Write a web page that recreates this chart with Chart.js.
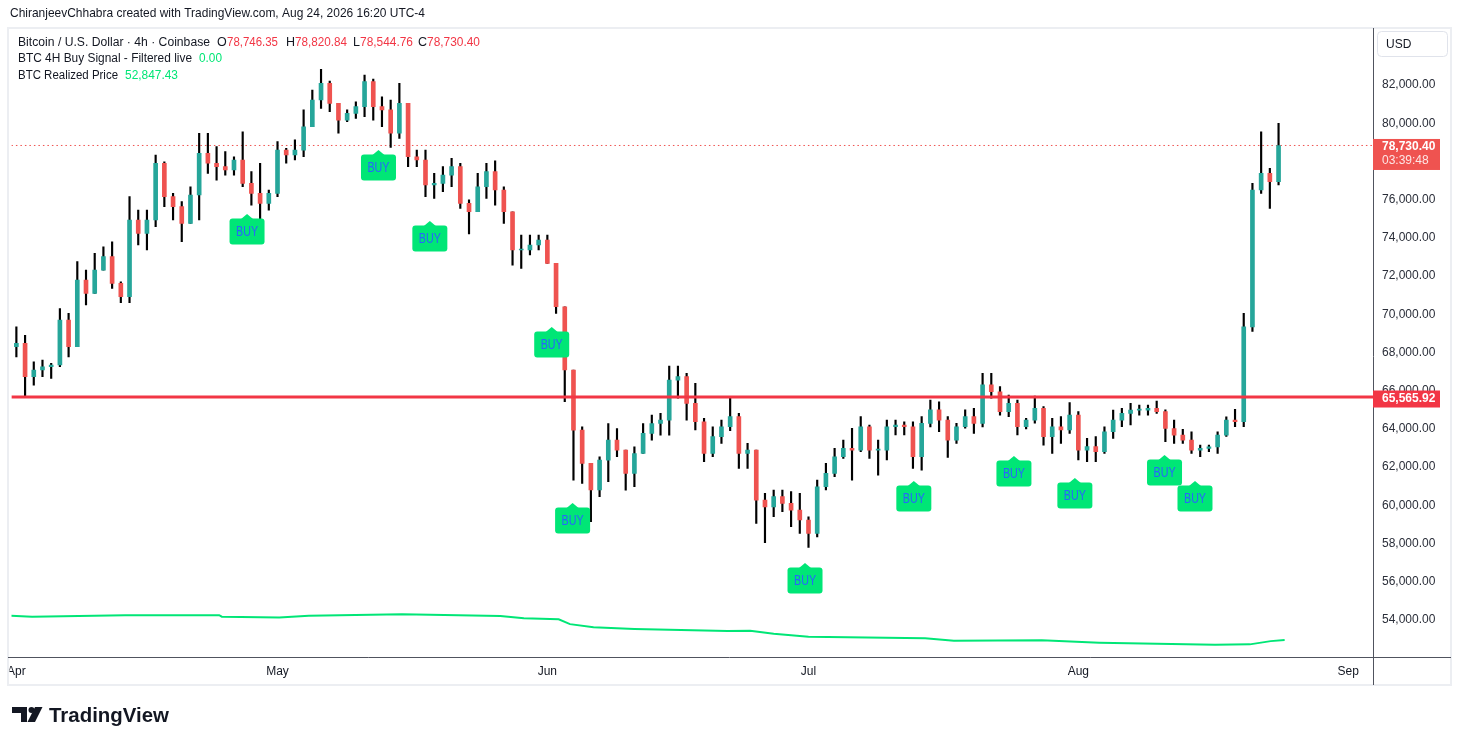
<!DOCTYPE html>
<html>
<head>
<meta charset="utf-8">
<title>BTC / USD 4h</title>
<script src="https://cdn.jsdelivr.net/npm/chart.js@4.4.1/dist/chart.umd.min.js"></script>
<style>
  html, body { margin: 0; padding: 0; background: #fff; }
  canvas { display: block; }
</style>
</head>
<body>
<canvas id="chart" width="1461" height="745"></canvas>
<script>
// one candle per day, day 0 = Apr 1
const opens = [
  68200,68370,66630,66980,67150,67240,69590,68200,71690,70990,
  72210,72910,71510,70820,74830,74130,74830,77800,76050,75530,
  74650,76140,78320,77800,77620,77450,77970,76750,76220,75700,
  76220,78490,78230,78490,79710,81110,81980,80930,80060,80410,
  80760,82070,80760,80590,79370,80930,78140,77970,76660,76750,
  77180,77620,75700,75260,76570,77360,76400,75260,73260,73260,
  73520,73780,72560,70290,66980,63830,62090,60700,62260,63310,
  62790,61570,62610,63660,64180,64360,66450,66630,65230,64270,
  62620,63490,64010,64540,62620,62790,60170,59820,60350,60000,
  59650,59130,58430,60870,61570,62440,62880,62790,64010,62790,
  62790,64010,64100,64010,62440,64190,64890,64360,63310,64010,
  64540,64190,66200,65840,64800,65230,64010,64360,64970,63490,
  64010,63840,64620,62790,62970,62710,63750,64360,64710,64880,
  64880,64970,64800,63920,63570,63310,62790,62880,62960,63570,
  64360,64270,69240,76400,77270,76840
]
const highs = [
  69240,68800,67410,67500,67330,70200,69940,72650,72210,73080,
  73430,73690,71600,76050,75350,75350,78230,77880,76220,75790,
  76570,79370,79370,78670,78410,78140,79450,77360,77800,76400,
  78930,78580,79020,80590,81630,82710,82100,80930,80590,81020,
  82420,82200,81280,81110,81980,80930,78490,78490,77270,77620,
  78060,77800,75880,77270,77800,77930,76570,75260,74040,74040,
  74040,74040,72560,70290,66980,64010,62090,62440,64180,63920,
  62790,62960,64180,64620,64710,67190,67190,66800,66280,64450,
  64010,64360,65500,64710,63140,62790,60520,60700,60700,60610,
  60520,59300,61220,62090,62880,63310,63930,64540,64100,63310,
  64360,64360,64270,64270,64540,65410,65320,64540,64190,64890,
  64970,66800,66800,66110,65670,65400,64450,65620,65060,64450,
  64540,65270,64800,63400,63490,64010,64880,64970,65230,65150,
  65150,65350,64900,64360,63870,63750,63050,63050,63750,64530,
  64920,69940,76750,79450,77530,79890
]
const lows = [
  67670,65630,66190,66630,66540,67150,67670,68200,70380,70990,
  72210,71250,70500,70500,73520,73260,74480,75530,74830,73690,
  74650,74830,77270,76920,77180,77180,76570,75610,74830,75350,
  76050,77800,77970,78140,79710,80670,80500,79370,79970,80150,
  80240,80060,79710,78630,79100,77620,77620,76050,75960,76310,
  76570,75440,74100,75260,75960,75610,74650,72470,72300,73000,
  73260,72560,69940,65320,61220,61040,59040,60350,61130,62440,
  60690,60870,62610,63310,63570,63570,65500,64360,63840,62180,
  62440,63140,63800,61830,61830,58950,57940,59300,59560,58780,
  58430,57690,58250,60700,61400,62350,61220,62700,62350,61480,
  62270,63580,63580,61830,61740,64000,63750,62410,63140,63930,
  63660,64000,65500,64620,64540,63580,63900,64200,63050,62620,
  63140,63660,62270,62180,62180,62620,63400,64010,64100,64620,
  64620,64710,63230,63140,63140,62610,62440,62700,62610,63500,
  64010,64010,69000,76220,75440,76660
]
const closes = [
  68370,66630,66980,67150,67240,69590,68200,71690,70990,72210,
  72910,71510,70820,74830,74130,74830,77800,76050,75530,74650,
  76140,78320,77800,77620,77450,77970,76750,76220,75700,76220,
  78490,78230,78490,79710,81110,81980,80930,80060,80410,80760,
  82070,80760,80590,79370,80930,78140,77970,76660,76750,77180,
  77620,75700,75260,76570,77360,76400,75260,73260,73260,73520,
  73780,72560,70290,66980,63830,62090,60700,62260,63310,62790,
  61570,62610,63660,64180,64360,66450,66630,65230,64270,62620,
  63490,64010,64540,62620,62790,60170,59820,60350,60000,59650,
  59130,58430,60870,61570,62440,62880,62790,64010,62790,62790,
  64010,64100,64010,62440,64190,64890,64360,63310,64010,64540,
  64190,66200,65840,64800,65230,64010,64360,64970,63490,64010,
  63840,64620,62790,62970,62710,63750,64360,64710,64880,64880,
  64970,64800,63920,63570,63310,62790,62880,62960,63570,64360,
  64270,69240,76400,77270,76840,78730
]

// BTC realized price (day, value)
const realizedDays = [-0.6, 1.8, 12.5, 23.3, 23.6, 30.2, 33.6, 44.3, 55.6, 58.3, 62.3, 63.6, 66.3, 71, 81.7, 84.3, 87, 91, 104.4, 107.7, 117.8, 124.4, 137.7, 141.7, 144.1, 145.7]
const realizedValues = [54120, 54070, 54150, 54150, 54070, 54020, 54120, 54190, 54100, 53990, 53930, 53680, 53510, 53420, 53320, 53330, 53180, 53020, 52940, 52810, 52830, 52710, 52600, 52620, 52790, 52847]

// buy signals: day and price level of the arrow tip
const buyDays = [26.5, 41.6, 47.5, 61.5, 63.9, 90.6, 103.1, 114.6, 121.6, 131.9, 135.4]
const buyLevels = [75140, 78490, 74780, 69230, 60020, 56880, 61170, 62480, 61330, 62530, 61170]

const supportLevel = 65565.92
const lastPrice = 78730.40

const monthTicks = [0, 30, 61, 91, 122, 153]
const monthLabels = ['Apr', 'May', 'Jun', 'Jul', 'Aug', 'Sep']
const priceTicks = [54000, 56000, 58000, 60000, 62000, 64000, 66000, 68000, 70000, 72000, 74000, 76000, 78000, 80000, 82000]

const xMin = -0.57
const xMax = 155.85
const yMin = 51959
const yMax = 84826

const FONT = "'Liberation Sans', Arial, sans-serif"
const UP = '#26a69a'
const DOWN = '#ef5350'

const days = closes.map((_, i) => i)
const bodyColors = days.map(i => closes[i] >= opens[i] ? UP : DOWN)

function fmt(v) {
  return v.toLocaleString('en-US', { minimumFractionDigits: 2, maximumFractionDigits: 2 })
}

function box(ctx, x, y, w, h, r) {
  ctx.beginPath()
  ctx.roundRect(x, y, w, h, r)
}

const overlay = {
  id: 'overlay',
  beforeDraw(chart) {
    const ctx = chart.ctx
    ctx.save()
    ctx.fillStyle = '#ffffff'
    ctx.fillRect(0, 0, chart.width, chart.height)
    ctx.restore()
  },
  afterDatasetsDraw(chart) {
    const ctx = chart.ctx
    const xs = chart.scales.x
    const ys = chart.scales.y
    ctx.save()
    buyDays.forEach((d, i) => {
      const x = xs.getPixelForValue(d)
      const tip = ys.getPixelForValue(buyLevels[i])
      ctx.fillStyle = '#00e676'
      ctx.beginPath()
      ctx.moveTo(x, tip)
      ctx.lineTo(x + 6, tip + 5)
      ctx.lineTo(x - 6, tip + 5)
      ctx.closePath()
      ctx.fill()
      box(ctx, x - 17.5, tip + 4.5, 35, 26, 3)
      ctx.fill()
      ctx.fillStyle = '#2962ff'
      ctx.font = '14px ' + FONT
      ctx.textAlign = 'center'
      ctx.textBaseline = 'middle'
      ctx.fillText('BUY', x, tip + 18, 22)
    })
    ctx.restore()
  },
  afterDraw(chart) {
    const ctx = chart.ctx
    const ys = chart.scales.y
    ctx.save()

    // hide the part of the first month label that falls outside the pane
    ctx.fillStyle = '#ffffff'
    ctx.fillRect(0, 650, 9.5, 40)

    // pane frame and axis lines
    ctx.strokeStyle = '#eceef2'
    ctx.lineWidth = 2
    ctx.strokeRect(8, 28, 1443, 657)
    ctx.strokeStyle = '#50535e'
    ctx.lineWidth = 1
    ctx.beginPath()
    ctx.moveTo(1373.5, 28)
    ctx.lineTo(1373.5, 685)
    ctx.moveTo(8, 657.5)
    ctx.lineTo(1451, 657.5)
    ctx.stroke()

    // header
    ctx.textBaseline = 'middle'
    ctx.textAlign = 'left'
    ctx.fillStyle = '#131722'
    ctx.font = '13px ' + FONT
    ctx.fillText('ChiranjeevChhabra created with TradingView.com, Aug 24, 2026 16:20 UTC-4', 10, 13, 415)

    // legend
    const legend = [
      ['Bitcoin / U.S. Dollar · 4h · Coinbase', 18, 42, 192, '#131722'],
      ['O', 217, 42, 10, '#131722'],
      ['78,746.35', 227, 42, 51, '#f23645'],
      ['H', 286, 42, 10, '#131722'],
      ['78,820.84', 295, 42, 52, '#f23645'],
      ['L', 353, 42, 8, '#131722'],
      ['78,544.76', 360, 42, 53, '#f23645'],
      ['C', 418, 42, 10, '#131722'],
      ['78,730.40', 427, 42, 53, '#f23645'],
      ['BTC 4H Buy Signal - Filtered live', 18, 58, 174, '#131722'],
      ['0.00', 199, 58, 23, '#00e676'],
      ['BTC Realized Price', 18, 75, 100, '#131722'],
      ['52,847.43', 125, 75, 53, '#00e676']
    ]
    ctx.font = '12.5px ' + FONT
    legend.forEach(([t, x, y, w, c]) => {
      ctx.fillStyle = c
      ctx.fillText(t, x, y + 1, w)
    })

    // USD button
    ctx.strokeStyle = '#e0e3eb'
    box(ctx, 1377.5, 31.5, 70, 25, 4)
    ctx.stroke()
    ctx.fillStyle = '#131722'
    ctx.font = '12px ' + FONT
    ctx.fillText('USD', 1386, 44.5)

    // last price label
    const yl = ys.getPixelForValue(lastPrice)
    ctx.fillStyle = '#ef5350'
    ctx.fillRect(1373, yl - 6.5, 67, 31)
    ctx.fillStyle = '#ffffff'
    ctx.font = 'bold 12px ' + FONT
    ctx.fillText(fmt(lastPrice), 1382, yl + 1.5, 54)
    ctx.font = '12px ' + FONT
    ctx.fillStyle = 'rgba(255,255,255,0.85)'
    ctx.fillText('03:39:48', 1382, yl + 15, 50)

    // support level label
    const ysup = ys.getPixelForValue(supportLevel)
    ctx.fillStyle = '#f23645'
    ctx.fillRect(1373, ysup - 6.5, 67, 17)
    ctx.fillStyle = '#ffffff'
    ctx.font = 'bold 12px ' + FONT
    ctx.fillText(fmt(supportLevel), 1382, ysup + 2, 54)

    // TradingView logo
    ctx.fillStyle = '#131722'
    ctx.fillRect(12, 707, 15, 6)
    ctx.fillRect(21, 707, 6, 15)
    ctx.beginPath()
    ctx.arc(31.5, 710, 3, 0, Math.PI * 2)
    ctx.fill()
    ctx.beginPath()
    ctx.moveTo(35, 707)
    ctx.lineTo(42.5, 707)
    ctx.lineTo(35, 722)
    ctx.lineTo(27.5, 722)
    ctx.closePath()
    ctx.fill()
    ctx.font = 'bold 21px ' + FONT
    ctx.textBaseline = 'alphabetic'
    ctx.fillText('TradingView', 49, 722, 120)

    ctx.restore()
  }
}

new Chart(document.getElementById('chart'), {
  type: 'bar',
  data: {
    datasets: [
      {
        type: 'line',
        label: 'Support',
        data: [{ x: xMin, y: supportLevel }, { x: xMax, y: supportLevel }],
        borderColor: '#f23645',
        borderWidth: 3,
        pointRadius: 0,
        order: 0
      },
      {
        type: 'line',
        label: 'BTC Realized Price',
        data: realizedDays.map((d, i) => ({ x: d, y: realizedValues[i] })),
        borderColor: '#00e676',
        borderWidth: 2,
        pointRadius: 0,
        order: 1
      },
      {
        label: 'Bodies',
        data: days.map(i => ({ x: i, y: [opens[i], closes[i]] })),
        backgroundColor: bodyColors,
        barThickness: 4,
        minBarLength: 1,
        grouped: false,
        order: 2
      },
      {
        label: 'Wicks',
        data: days.map(i => ({ x: i, y: [lows[i], highs[i]] })),
        backgroundColor: '#000000',
        barThickness: 1.5,
        grouped: false,
        order: 3
      },
      {
        type: 'line',
        label: 'Last',
        data: [{ x: xMin, y: lastPrice }, { x: xMax, y: lastPrice }],
        borderColor: '#ef5350',
        borderWidth: 1,
        borderDash: [1.5, 3],
        pointRadius: 0,
        order: 4
      }
    ]
  },
  options: {
    responsive: false,
    animation: false,
    events: [],
    layout: { padding: { left: 9, top: 29, right: 10, bottom: 60 } },
    plugins: {
      legend: { display: false },
      tooltip: { enabled: false }
    },
    scales: {
      x: {
        type: 'linear',
        min: xMin,
        max: xMax,
        offset: false,
        grid: { display: false, drawTicks: false },
        border: { display: false },
        afterBuildTicks: s => { s.ticks = monthTicks.map(v => ({ value: v })) },
        afterFit: s => { s.height = 28 },
        ticks: {
          autoSkip: false,
          maxRotation: 0,
          padding: 7,
          color: '#131722',
          font: { family: FONT, size: 12 },
          callback: v => monthLabels[monthTicks.indexOf(v)]
        }
      },
      y: {
        position: 'right',
        min: yMin,
        max: yMax,
        grid: { display: false, drawTicks: false },
        border: { display: false },
        afterBuildTicks: s => { s.ticks = priceTicks.map(v => ({ value: v })) },
        afterFit: s => { s.width = 78 },
        ticks: {
          padding: 9,
          labelOffset: 2,
          color: '#2a2e39',
          font: { family: FONT, size: 12 },
          callback: v => fmt(v)
        }
      }
    }
  },
  plugins: [overlay]
})
</script>
</body>
</html>
